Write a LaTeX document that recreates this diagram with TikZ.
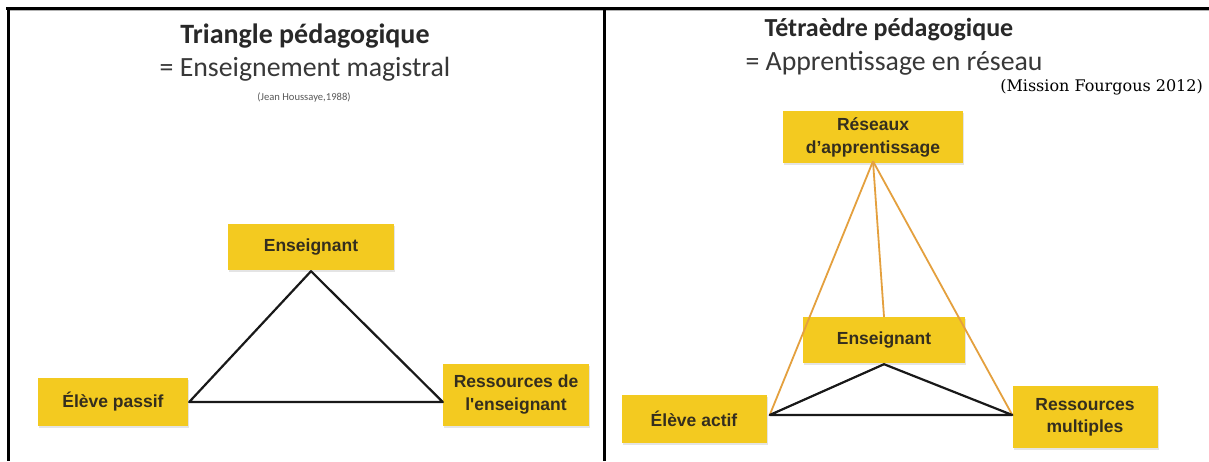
\documentclass[tikz,border=0pt]{standalone}
\usepackage{fontspec}
\setsansfont{Carlito}
\newfontfamily\boxfont{Liberation Sans}
\newfontfamily\citefont{DejaVu Serif}
\usetikzlibrary{shadows}
\definecolor{boxyellow}{RGB}{243,202,32}
\definecolor{orangeline}{RGB}{228,160,62}
\definecolor{txtdark}{RGB}{40,40,40}
\definecolor{boxtxt}{RGB}{52,46,30}
\tikzset{
  ybox/.style={rectangle, fill=boxyellow, inner sep=0pt, align=center,
    font=\boxfont\bfseries\fontsize{17.5}{23}\selectfont, text=boxtxt,
    drop shadow={shadow xshift=1.2pt, shadow yshift=-1.5pt, fill=black!30, opacity=0.35}},
  title/.style={font=\sffamily\bfseries\fontsize{28}{32}\selectfont, text=txtdark, inner sep=0pt},
  subtitle/.style={font=\sffamily\fontsize{27.8}{32}\selectfont, text=black!78, inner sep=0pt},
  frameline/.style={line width=3pt, black},
  tri/.style={line width=2.2pt, black!90, line join=round},
  orl/.style={line width=1.8pt, orangeline}
}
\begin{document}
\begin{tikzpicture}[x=1pt,y=-1pt]
\useasboundingbox (0,0) rectangle (1209,461);
\fill[white] (0,0) rectangle (1209,461);
% frame
\draw[line width=1.5pt, black!30] (8,10.5) -- (1209,10.5);
\draw[frameline] (6,8) -- (1209,8);
\draw[frameline] (8,8) -- (8,461);
\draw[frameline] (604,8) -- (604,461);
% left panel titles
\node[title] (t1) at (305,36) {Triangle pédagogique};
\node[subtitle] (s1) at (305,69) {= Enseignement magistral};
\node[font=\sffamily\fontsize{10.6}{12}\selectfont, text=black!65, inner sep=0pt] (c1) at (304,97) {(Jean Houssaye,1988)};
% left boxes
\node[ybox, minimum width=166pt, minimum height=46pt] (eL) at (311,247) {Enseignant};
\node[ybox, minimum width=150pt, minimum height=48pt] (pL) at (113,402) {Élève passif};
\node[ybox, minimum width=146pt, minimum height=62pt] (rL) at (516,395) {Ressources de\\l'enseignant};
\coordinate (pLv) at ([xshift=1pt]pL.east);
\coordinate (rLv) at (pLv -| rL.west);
\draw[tri] ([yshift=-1pt]eL.south) -- (pLv) -- (rLv) -- cycle;
% right panel titles
\node[title, font=\sffamily\bfseries\fontsize{26}{30}\selectfont] (t2) at (889,30) {Tétraèdre pédagogique};
\node[subtitle] (s2) at (894,63) {= Apprentissage en réseau};
\node[font=\citefont\fontsize{16}{18}\selectfont, inner sep=0pt, anchor=east] (c2) at (1203,87) {(Mission Fourgous 2012)};
% right boxes
\node[ybox, minimum width=180pt, minimum height=52pt] (rR) at (873,137) {Réseaux\\d’apprentissage};
\node[ybox, minimum width=162pt, minimum height=46pt] (eR) at (884,340) {Enseignant};
\node[ybox, minimum width=145pt, minimum height=48pt] (aR) at (694,419) {Élève actif};
\node[ybox, minimum width=145pt, minimum height=62pt, font=\boxfont\bfseries\fontsize{17.5}{22}\selectfont] (mR) at (1085,417) {Ressources\\multiples};
\coordinate (ap) at ([yshift=2pt]rR.south);
\coordinate (aRv) at ([xshift=3pt,yshift=4pt]aR.east);
\coordinate (mRv) at (aRv -| mR.west);
\draw[orl] (ap) -- (aRv);
\draw[orl] (ap) -- (eR.north);
\draw[orl] (ap) -- (mRv);
\draw[tri] ([yshift=-1pt]eR.south) -- (aRv) -- (mRv) -- cycle;
\end{tikzpicture}
\end{document}
